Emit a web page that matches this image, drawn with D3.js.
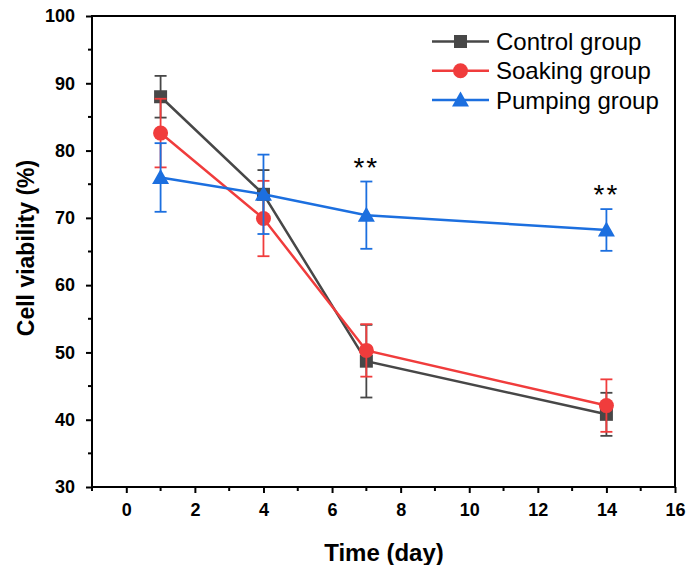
<!DOCTYPE html>
<html><head><meta charset="utf-8">
<script src="https://cdn.jsdelivr.net/npm/d3@7"></script>
<style>body{margin:0;background:#fff}svg{display:block}</style>
</head><body>
<svg id="c" width="688" height="565"></svg>
<script>
const days = [1, 4, 7, 14];
const seriesNames = ["Control group", "Soaking group", "Pumping group"];
const controlMean = [88.0, 73.5, 48.7, 40.8];
const controlErr  = [3.1, 3.6, 5.4, 3.2];
const soakingMean = [82.6, 69.9, 50.3, 42.1];
const soakingErr  = [5.1, 5.6, 3.9, 3.9];
const pumpingMean = [76.0, 73.5, 70.4, 68.2];
const pumpingErr  = [5.1, 5.9, 5.0, 3.1];
const xTicks = [0, 2, 4, 6, 8, 10, 12, 14, 16];
const yTicks = [30, 40, 50, 60, 70, 80, 90, 100];
const sigDays = [7, 14];
const sigLabel = "**";

const colors = ["#474747", "#f03c3c", "#1c6fdf"];
const shapes = ["square", "circle", "triangle"];
const means = [controlMean, soakingMean, pumpingMean];
const errs = [controlErr, soakingErr, pumpingErr];

const svg = d3.select("#c");
const L = 92, R = 675, T = 16, B = 487;
const x = d3.scaleLinear().domain([-1, 16]).range([L, R]);
const y = d3.scaleLinear().domain([30, 100]).range([B, T]);
const font = "Arial, 'Liberation Sans', sans-serif";

// frame
svg.append("rect").attr("x", L).attr("y", T).attr("width", R - L).attr("height", B - T)
  .attr("fill", "none").attr("stroke", "#000").attr("stroke-width", 2);

// axes
const xAxis = d3.axisBottom(x).tickValues(xTicks).tickSize(6).tickPadding(10).tickFormat(d3.format("d"));
const gx = svg.append("g").attr("transform", `translate(0,${B})`).call(xAxis);
const yAxis = d3.axisLeft(y).tickValues(yTicks).tickSize(6).tickPadding(11).tickFormat(d3.format("d"));
const gy = svg.append("g").attr("transform", `translate(${L},0)`).call(yAxis);
[gx, gy].forEach(g => {
  g.select(".domain").remove();
  g.selectAll(".tick line").attr("stroke", "#000").attr("stroke-width", 2);
  g.selectAll("text").attr("font-family", font).attr("font-weight", "bold").attr("font-size", 18).attr("fill", "#000");
});
// minor ticks
const xMinor = d3.range(-1, 16, 2);
svg.append("g").selectAll("line").data(xMinor).join("line")
  .attr("x1", d => x(d)).attr("x2", d => x(d)).attr("y1", B).attr("y2", B + 4)
  .attr("stroke", "#000").attr("stroke-width", 2);
const yMinor = d3.range(35, 100, 10);
svg.append("g").selectAll("line").data(yMinor).join("line")
  .attr("x1", L).attr("x2", L - 4).attr("y1", d => y(d)).attr("y2", d => y(d))
  .attr("stroke", "#000").attr("stroke-width", 2);

// axis titles
svg.append("text").attr("x", 384).attr("y", 561).attr("text-anchor", "middle")
  .attr("font-family", font).attr("font-weight", "bold").attr("font-size", 24).text("Time (day)");
svg.append("text").attr("transform", `translate(34,248) rotate(-90)`).attr("text-anchor", "middle")
  .attr("font-family", font).attr("font-weight", "bold").attr("font-size", 23).text("Cell viability (%)");

function marker(g, shape, cx, cy, color) {
  if (shape === "square") {
    g.append("rect").attr("x", cx - 6.5).attr("y", cy - 6.5).attr("width", 13).attr("height", 13).attr("fill", color);
  } else if (shape === "circle") {
    g.append("circle").attr("cx", cx).attr("cy", cy).attr("r", 7.5).attr("fill", color);
  } else {
    g.append("path").attr("d", `M${cx},${cy - 8.5}L${cx + 8.5},${cy + 6.5}L${cx - 8.5},${cy + 6.5}Z`).attr("fill", color);
  }
}

const line = d3.line().x(d => x(d[0])).y(d => y(d[1]));
means.forEach((m, i) => {
  const g = svg.append("g");
  const pts = days.map((d, j) => [d, m[j]]);
  g.append("path").attr("d", line(pts)).attr("fill", "none").attr("stroke", colors[i]).attr("stroke-width", 2.5);
  days.forEach((d, j) => {
    const cx = x(d), y1 = y(m[j] + errs[i][j]), y2 = y(m[j] - errs[i][j]);
    g.append("line").attr("x1", cx).attr("x2", cx).attr("y1", y1).attr("y2", y2).attr("stroke", colors[i]).attr("stroke-width", 1.8);
    [y1, y2].forEach(yy => g.append("line").attr("x1", cx - 6).attr("x2", cx + 6).attr("y1", yy).attr("y2", yy)
      .attr("stroke", colors[i]).attr("stroke-width", 1.8));
  });
  days.forEach((d, j) => marker(g, shapes[i], x(d), y(m[j]), colors[i]));
});

// significance
sigDays.forEach(d => {
  const j = days.indexOf(d);
  const top = pumpingMean[j] + pumpingErr[j];
  svg.append("text").attr("x", x(d)).attr("y", y(top) - 5).attr("text-anchor", "middle")
    .attr("letter-spacing", 2).attr("font-family", font).attr("font-size", 28).text(sigLabel);
});

// legend
const lg = svg.append("g");
seriesNames.forEach((n, i) => {
  const yy = 41.5 + i * 29.3;
  lg.append("line").attr("x1", 432).attr("x2", 489).attr("y1", yy).attr("y2", yy).attr("stroke", colors[i]).attr("stroke-width", 2.5);
  marker(lg, shapes[i], 460.5, yy, colors[i]);
  lg.append("text").attr("x", 496).attr("y", yy + 8.5).attr("font-family", font).attr("font-size", 24).text(n);
});
</script>
</body></html>
